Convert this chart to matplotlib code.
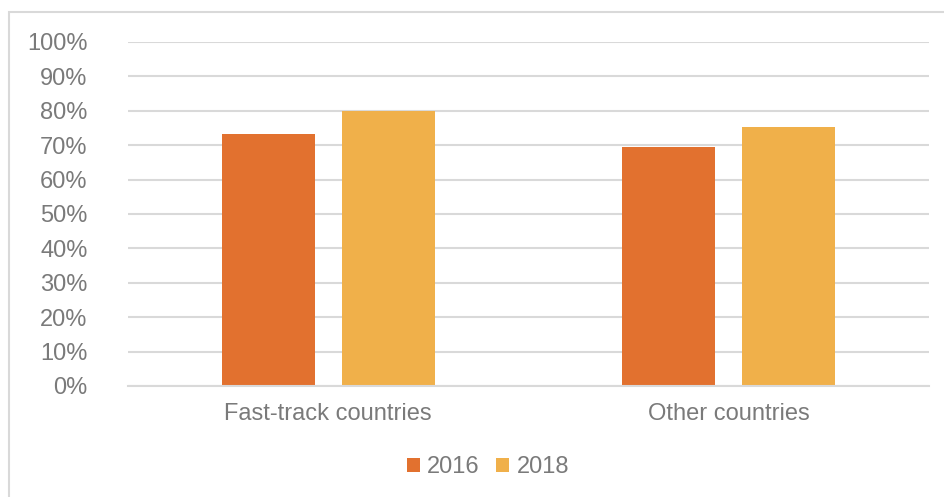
import matplotlib.pyplot as plt
import numpy as np
from matplotlib.patches import Rectangle

plt.rcParams['font.family'] = ['Liberation Sans', 'DejaVu Sans']

categories = ['Fast-track countries', 'Other countries']
years = ['2016', '2018']
values_2016 = [0.732, 0.694]
values_2018 = [0.800, 0.752]
colors = ['#E2712F', '#F0B04A']
text_color = '#7a7a7a'
grid_color = '#d9d9d9'

fig = plt.figure(figsize=(9.45, 4.97), dpi=100)

# outer chart border (Excel chart area)
fig.patches.append(Rectangle((9 / 945, -0.01), 1.0, 1 - 12 / 497 + 0.01,
                             transform=fig.transFigure, fill=False,
                             edgecolor=grid_color, linewidth=1.5))

ax = fig.add_axes([128 / 945, (497 - 386) / 497, (929 - 128) / 945, (386 - 42) / 497])

x = np.arange(len(categories))
width = 0.232
offset = 0.15
ax.bar(x - offset, values_2016, width, color=colors[0], label=years[0], zorder=2)
ax.bar(x + offset, values_2018, width, color=colors[1], label=years[1], zorder=2)

ax.set_xlim(-0.5, 1.5)
ax.set_ylim(0, 1.0)
ticks = np.arange(0, 1.01, 0.1)
ax.set_yticks(ticks)
ax.set_yticklabels([f'{int(round(t * 100))}%' for t in ticks])
ax.set_xticks(x)
ax.set_xticklabels(categories)

ax.yaxis.grid(True, color=grid_color, linewidth=1.5, zorder=0)
ax.set_axisbelow(True)
for side in ['top', 'right', 'left']:
    ax.spines[side].set_visible(False)
ax.spines['bottom'].set_color(grid_color)
ax.spines['bottom'].set_linewidth(1.5)

ax.tick_params(axis='both', length=0, labelsize=17, labelcolor=text_color)
ax.tick_params(axis='y', pad=29)
ax.tick_params(axis='x', pad=12)

fig.legend(loc='center', bbox_to_anchor=(488 / 945, (497 - 467) / 497), ncol=2,
           frameon=False, fontsize=17, labelcolor=text_color,
           handlelength=0.55, handleheight=0.55, handletextpad=0.3,
           columnspacing=0.7)

fig.savefig('out.png', dpi=100)
